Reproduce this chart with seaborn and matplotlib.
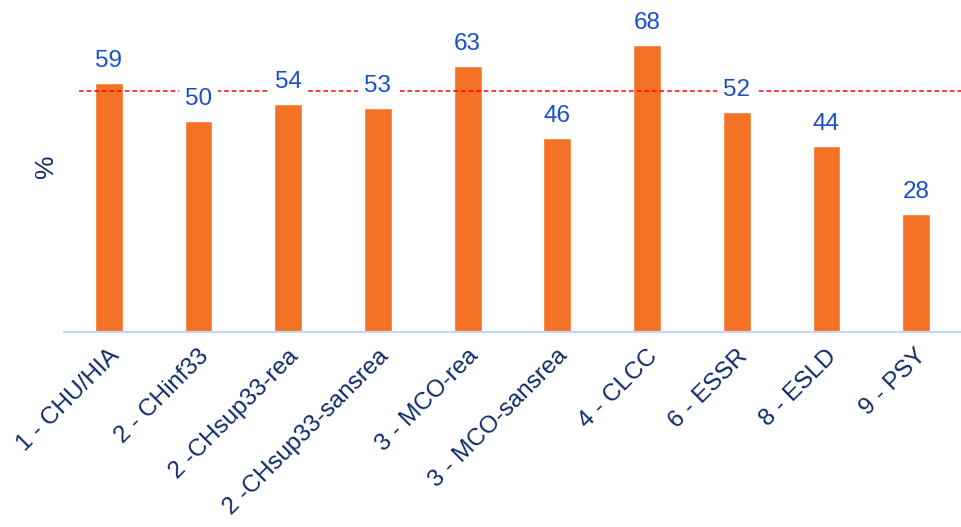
import matplotlib
matplotlib.use("Agg")
import matplotlib.pyplot as plt
import matplotlib.transforms as mtransforms
import seaborn as sns
import pandas as pd

categories = ["1 - CHU/HIA", "2 - CHinf33", "2 -CHsup33-rea", "2 -CHsup33-sansrea",
              "3 - MCO-rea", "3 - MCO-sansrea", "4 - CLCC", "6 - ESSR", "8 - ESLD", "9 - PSY"]
values = [59, 50, 54, 53, 63, 46, 68, 52, 44, 28]
reference = 57

sns.set_style("white")
plt.rcParams["font.family"] = ["Liberation Sans", "DejaVu Sans"]

df = pd.DataFrame({"cat": categories, "val": values})

fig = plt.figure(figsize=(9.61, 5.27), dpi=100)
ax = fig.add_axes([0.0666, 0.37, 0.9334, 0.63])

sns.barplot(data=df, x="cat", y="val", color="#F47226", saturation=1, width=0.31, ax=ax, zorder=2)

ax.set_xlim(-0.5, 9.5)
ax.set_ylim(0, 78.6)

# ligne de référence
ax.hlines(reference, -0.33, 9.6, colors="#FF0000", linestyles=(0, (3, 2)), linewidth=1.1, zorder=3)

# étiquettes de valeur
for i, v in enumerate(values):
    ax.annotate(str(v), (i, v), xytext=(0, 8), textcoords="offset points",
                ha="center", va="bottom", fontsize=17.5, color="#1A4FC9",
                bbox=dict(boxstyle="square,pad=0.25", fc="white", ec="none"), zorder=4)

for s in ["top", "right", "left"]:
    ax.spines[s].set_visible(False)
ax.spines["bottom"].set_color("#C6D6F7")
ax.spines["bottom"].set_linewidth(1.6)

ax.set_yticks([])
ax.set_xlabel("")
ax.set_ylabel("%", fontsize=19, color="#0D2A66", labelpad=4)
ax.tick_params(axis="x", length=0, pad=2)
offset = mtransforms.ScaledTranslation(5 / 72, -13 / 72, fig.dpi_scale_trans)
for lbl in ax.get_xticklabels():
    lbl.set_rotation(45)
    lbl.set_ha("right")
    lbl.set_va("center")
    lbl.set_rotation_mode("anchor")
    lbl.set_fontsize(17.5)
    lbl.set_color("#0D2A66")
    lbl.set_transform(lbl.get_transform() + offset)

fig.savefig("out.png", dpi=100)
